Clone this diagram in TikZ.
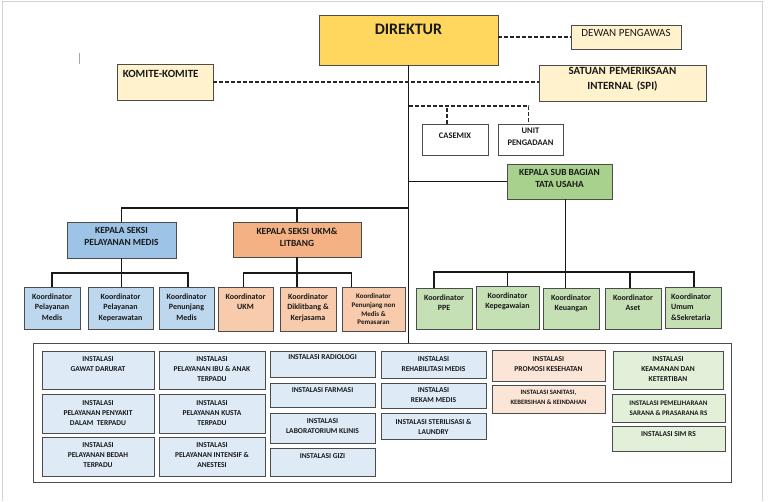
\documentclass[tikz,border=0pt]{standalone}
\usepackage{fontspec}
\setmainfont{Carlito}
\usetikzlibrary{fit}

\definecolor{emas}{HTML}{FFD75E}
\definecolor{krem}{HTML}{FFF2CC}
\definecolor{biru}{HTML}{9DC3E6}
\definecolor{birumuda}{HTML}{BDD7EE}
\definecolor{biruinst}{HTML}{DEEBF7}
\definecolor{jingga}{HTML}{F4B183}
\definecolor{jinggamuda}{HTML}{F8CBAD}
\definecolor{jingginst}{HTML}{FBE5D6}
\definecolor{hijau}{HTML}{A9D18E}
\definecolor{hijaumuda}{HTML}{C5E0B4}
\definecolor{hijauinst}{HTML}{E2F0D9}

\begin{document}
\begin{tikzpicture}[x=1pt,y=-1pt,
   kotak/.style={draw=black!70,line width=0.9pt,inner sep=0pt,text=black!90},
   garis/.style={line width=1.5pt,black!90},
   putus/.style={line width=1.6pt,black!85,dash pattern=on 4pt off 2pt},
   isi/.style={anchor=north,align=center,inner sep=0pt,yshift=-6pt,text=black!90,
     font=\fontsize{7.5}{10}\selectfont\bfseries},
   koor/.style={anchor=north,align=center,inner sep=0pt,yshift=-7pt,text=black!90,
     font=\fontsize{8}{10.5}\selectfont\bfseries},
   kepala/.style={anchor=north,align=center,inner sep=0pt,yshift=-6pt,text=black!90,
     font=\fontsize{9.4}{12}\selectfont\bfseries}]

  \useasboundingbox (0,0) rectangle (768,501);
  \draw[gray!35,line width=1pt] (2,501) -- (2,1.5) -- (762,1.5) -- (762,501);
  \draw[gray!70,line width=0.6pt] (79,53) -- (79,64);

  % pimpinan
  \node[kotak,fill=emas,fit={(319,15)(498,65)},
    label={[anchor=north,inner sep=0pt,yshift=-9pt,font=\fontsize{16}{18}\selectfont\bfseries,text=black!90]north:DIREKTUR}] (dir) {};
  \node[kotak,fill=krem,fit={(571,25)(681,49)},font=\fontsize{11}{13}\selectfont] (dewan) {DEWAN PENGAWAS};
  \node[kotak,fill=krem,fit={(117,64)(213,100)},
    label={[anchor=north west,inner sep=0pt,xshift=6pt,yshift=-7pt,font=\fontsize{11}{13}\selectfont\bfseries,text=black!90]north west:KOMITE-KOMITE}] (komite) {};
  \node[kotak,fill=krem,fit={(539,65)(706,101)},align=center,
    font=\fontsize{11}{15.5}\selectfont\bfseries] (spi) {SATUAN PEMERIKSAAN\\INTERNAL (SPI)};
  \node[kotak,fill=white,fit={(422,124)(488,155)},
    label={[anchor=north,inner sep=0pt,yshift=-9pt,font=\fontsize{8.5}{11.5}\selectfont\bfseries,text=black!90]north:CASEMIX}] (cm) {};
  \node[kotak,fill=white,fit={(498,124)(563,155)},align=center,
    font=\fontsize{8.5}{11.5}\selectfont\bfseries] (up) {UNIT\\PENGADAAN};
  \node[kotak,fill=hijau,fit={(507,164)(612,199)},label={[kepala]north:{KEPALA SUB BAGIAN\\TATA USAHA}}] (tu) {};
  \node[kotak,fill=biru,fit={(67,222)(176,258)},label={[kepala]north:{KEPALA SEKSI\\PELAYANAN MEDIS}}] (pm) {};
  \node[kotak,fill=jingga,fit={(233,222)(361,257)},label={[kepala]north:{KEPALA SEKSI UKM\&\\LITBANG}}] (ukm) {};

  % koordinator
  \node[kotak,fill=birumuda,fit={(24,287)(80,329)},label={[koor]north:{Koordinator\\Pelayanan\\Medis}}] (k1) {};
  \node[kotak,fill=birumuda,fit={(88,287)(153,329)},label={[koor]north:{Koordinator\\Pelayanan\\Keperawatan}}] (k2) {};
  \node[kotak,fill=birumuda,fit={(159,287)(214,329)},label={[koor]north:{Koordinator\\Penunjang\\Medis}}] (k3) {};
  \node[kotak,fill=jinggamuda,fit={(218,287)(273,331)},label={[koor]north:{Koordinator\\UKM}}] (u1) {};
  \node[kotak,fill=jinggamuda,fit={(280,287)(336,331)},label={[koor]north:{Koordinator\\Diklitbang \&\\Kerjasama}}] (u2) {};
  \node[kotak,fill=jinggamuda,fit={(342,287)(405,331)},label={[koor,font=\fontsize{7}{8.7}\selectfont\bfseries]north:{Koordinator\\Penunjang non\\Medis \&\\Pemasaran}}] (u3) {};
  \node[kotak,fill=hijaumuda,fit={(416,288)(472,329)},label={[koor]north:{Koordinator\\PPE}}] (t1) {};
  \node[kotak,fill=hijaumuda,fit={(476,286)(539,329)},label={[koor]north:{Koordinator\\Kepegawaian}}] (t2) {};
  \node[kotak,fill=hijaumuda,fit={(543,288)(599,329)},label={[koor]north:{Koordinator\\Keuangan}}] (t3) {};
  \node[kotak,fill=hijaumuda,fit={(605,288)(661,329)},label={[koor]north:{Koordinator\\Aset}}] (t4) {};
  \node[kotak,fill=hijaumuda,fit={(665,287)(721,328)},label={[koor,anchor=north west,align=left,xshift=-22pt]north:{Koordinator\\Umum\\\&Sekretaria}}] (t5) {};

  % instalasi
  \node[kotak,fill=white,fit={(33,343)(731,482)}] (frame) {};
  \node[kotak,fill=biruinst,fit={(42,351)(154,389)},label={[isi]north:{INSTALASI\\GAWAT DARURAT}}] (igd) {};
  \node[kotak,fill=biruinst,fit={(42,394)(154,433)},label={[isi,yshift=-1pt]north:{INSTALASI\\PELAYANAN PENYAKIT\\DALAM\ \ TERPADU}}] (ipd) {};
  \node[kotak,fill=biruinst,fit={(42,437)(154,476)},label={[isi]north:{INSTALASI\\PELAYANAN BEDAH\\TERPADU}}] (ibedah) {};
  \node[kotak,fill=biruinst,fit={(159,351)(265,389)},label={[isi]north:{INSTALASI\\PELAYANAN IBU \& ANAK\\TERPADU}}] (iibu) {};
  \node[kotak,fill=biruinst,fit={(159,394)(265,433)},label={[isi,yshift=-1pt]north:{INSTALASI\\PELAYANAN KUSTA\\TERPADU}}] (ikusta) {};
  \node[kotak,fill=biruinst,fit={(159,437)(265,476)},label={[isi]north:{INSTALASI\\PELAYANAN INTENSIF \&\\ANESTESI}}] (iicu) {};
  \node[kotak,fill=biruinst,fit={(270,351)(375,377)},label={[isi,yshift=2pt]north:{INSTALASI RADIOLOGI}}] (irad) {};
  \node[kotak,fill=biruinst,fit={(270,383)(375,407)},label={[isi,yshift=1pt]north:{INSTALASI FARMASI}}] (ifarm) {};
  \node[kotak,fill=biruinst,fit={(270,413)(375,443)},label={[isi]north:{INSTALASI\\LABORATORIUM KLINIS}}] (ilab) {};
  \node[kotak,fill=biruinst,fit={(270,448)(375,476)},label={[isi]north:{INSTALASI GIZI}}] (igizi) {};
  \node[kotak,fill=biruinst,fit={(381,351)(486,378)},label={[isi]north:{INSTALASI\\REHABILITASI MEDIS}}] (irehab) {};
  \node[kotak,fill=biruinst,fit={(381,383)(486,408)},label={[isi,yshift=1pt]north:{INSTALASI\\REKAM MEDIS}}] (irekam) {};
  \node[kotak,fill=biruinst,fit={(381,413)(486,439)},label={[isi,yshift=-1pt]north:{INSTALASI STERILISASI \&\\LAUNDRY}}] (isteril) {};
  \node[kotak,fill=jingginst,fit={(492,350)(605,381)},label={[isi,yshift=-1pt]north:{INSTALASI\\PROMOSI KESEHATAN}}] (ipromkes) {};
  \node[kotak,fill=jingginst,fit={(492,385)(605,413)},label={[isi,yshift=1pt,font=\fontsize{6.6}{10}\selectfont\bfseries]north:{INSTALASI SANITASI,\\KEBERSIHAN \& KEINDAHAN}}] (isanitasi) {};
  \node[kotak,fill=hijauinst,fit={(613,351)(723,389)},label={[isi]north:{INSTALASI\\KEAMANAN DAN\\KETERTIBAN}}] (ikeamanan) {};
  \node[kotak,fill=hijauinst,fit={(612,394)(725,422)},label={[isi,yshift=-1pt,font=\fontsize{7}{10}\selectfont\bfseries]north:{INSTALASI PEMELIHARAAN\\SARANA \& PRASARANA RS}}] (ipsrs) {};
  \node[kotak,fill=hijauinst,fit={(612,426)(725,451)},label={[isi]north:{INSTALASI SIM RS}}] (isim) {};

  % garis
  \draw[garis] (dir.south) -- (dir.south |- frame.north);
  \draw[putus] (dir.east |- dewan.west) -- (dewan.west);
  \draw[putus] (komite.east) -- (komite.east -| spi.west);
  \draw[putus] (dir.south |- 0,106) -| ([xshift=-2pt]up.north);
  \draw[putus] ([xshift=-8pt]cm.north) -- ([xshift=-8pt]cm.north |- 0,106);
  \draw[garis] (dir.south |- tu.west) -- (tu.west);
  \draw[garis] (pm.north) |- (dir.south |- 0,208);
  \draw[garis] (ukm.north) -- (ukm.north |- 0,208);

  \draw[garis] (pm.south) -- (pm.south |- k2.north);
  \draw[garis] (k1.north) |- (pm.south |- 0,273) -| ([xshift=1.5pt]k3.north);
  \draw[garis] (ukm.south) -- (ukm.south |- u2.north);
  \draw[garis] ([xshift=-2pt]u1.north) |- (ukm.south |- 0,273) -| ([xshift=10pt]u3.north west);
  \draw[garis] ([xshift=6pt]tu.south) -- ([xshift=6pt]tu.south |- t3.north);
  \draw[garis] ([xshift=-10pt]t1.north) |- (tu.south |- 0,272) -| ([xshift=1pt]t5.north);
  \foreach \k/\dx in {t2/0,t4/-3} \draw[garis] ([xshift=\dx pt]\k.north) -- ([xshift=\dx pt]\k.north |- 0,272);
\end{tikzpicture}
\end{document}
